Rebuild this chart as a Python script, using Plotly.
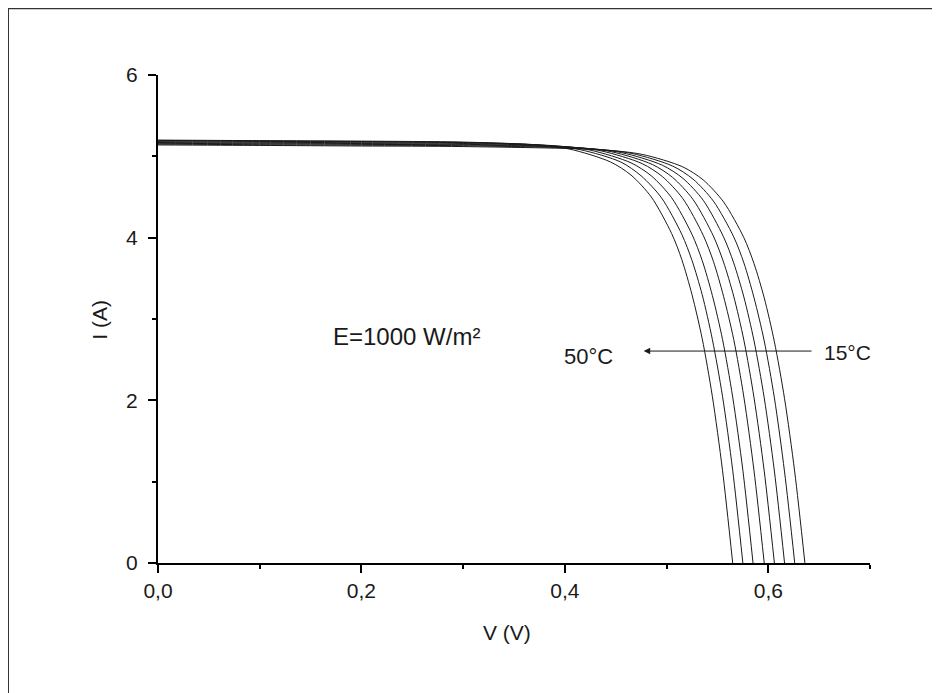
import plotly.graph_objects as go

# Temperatures (°C) of the curve family, 15 °C (right) to 50 °C (left)
temperatures = [15, 20, 25, 30, 35, 40, 45, 50]

# Voltage (V) points
v_15 = [0.0, 0.1, 0.2, 0.3, 0.436, 0.476, 0.516, 0.536, 0.556, 0.576, 0.586, 0.596, 0.606, 0.616, 0.626, 0.636]
v_20 = [0.0, 0.1, 0.2, 0.3, 0.426, 0.466, 0.506, 0.526, 0.546, 0.566, 0.576, 0.586, 0.596, 0.606, 0.616, 0.626]
v_25 = [0.0, 0.1, 0.2, 0.3, 0.416, 0.456, 0.496, 0.516, 0.536, 0.556, 0.566, 0.576, 0.586, 0.596, 0.606, 0.616]
v_30 = [0.0, 0.1, 0.2, 0.3, 0.406, 0.446, 0.486, 0.506, 0.526, 0.546, 0.556, 0.566, 0.576, 0.586, 0.596, 0.606]
v_35 = [0.0, 0.1, 0.2, 0.3, 0.396, 0.436, 0.476, 0.496, 0.516, 0.536, 0.546, 0.556, 0.566, 0.576, 0.586, 0.596]
v_40 = [0.0, 0.1, 0.2, 0.3, 0.385, 0.425, 0.465, 0.485, 0.505, 0.525, 0.535, 0.545, 0.555, 0.565, 0.575, 0.585]
v_45 = [0.0, 0.1, 0.2, 0.3, 0.375, 0.415, 0.455, 0.475, 0.495, 0.515, 0.525, 0.535, 0.545, 0.555, 0.565, 0.575]
v_50 = [0.0, 0.1, 0.2, 0.3, 0.365, 0.405, 0.445, 0.465, 0.485, 0.505, 0.515, 0.525, 0.535, 0.545, 0.555, 0.565]

# Current (A) read at those voltages
i_15 = [5.14, 5.134, 5.127, 5.12, 5.08, 5.024, 4.87, 4.71, 4.44, 4.00, 3.68, 3.26, 2.72, 2.02, 1.12, 0.0]
i_20 = [5.15, 5.143, 5.137, 5.13, 5.092, 5.035, 4.88, 4.72, 4.45, 4.01, 3.69, 3.26, 2.73, 2.03, 1.12, 0.0]
i_25 = [5.16, 5.154, 5.147, 5.14, 5.103, 5.045, 4.89, 4.73, 4.46, 4.01, 3.69, 3.27, 2.73, 2.03, 1.13, 0.0]
i_30 = [5.17, 5.163, 5.157, 5.148, 5.113, 5.056, 4.90, 4.74, 4.47, 4.02, 3.70, 3.28, 2.74, 2.03, 1.13, 0.0]
i_35 = [5.18, 5.173, 5.167, 5.158, 5.123, 5.066, 4.91, 4.75, 4.48, 4.03, 3.71, 3.28, 2.75, 2.04, 1.13, 0.0]
i_40 = [5.19, 5.183, 5.177, 5.167, 5.134, 5.076, 4.92, 4.76, 4.49, 4.04, 3.72, 3.29, 2.75, 2.04, 1.14, 0.0]
i_45 = [5.195, 5.189, 5.182, 5.171, 5.14, 5.082, 4.93, 4.76, 4.49, 4.04, 3.72, 3.30, 2.75, 2.05, 1.14, 0.0]
i_50 = [5.20, 5.193, 5.187, 5.175, 5.145, 5.088, 4.93, 4.77, 4.50, 4.05, 3.73, 3.30, 2.76, 2.05, 1.14, 0.0]

voltages = [v_15, v_20, v_25, v_30, v_35, v_40, v_45, v_50]
currents = [i_15, i_20, i_25, i_30, i_35, i_40, i_45, i_50]

FONT = "Liberation Sans, Arial, sans-serif"
INK = "#1a1a1a"

fig = go.Figure()
for t, vv, ii in zip(temperatures, voltages, currents):
    fig.add_trace(go.Scatter(
        x=vv, y=ii, mode="lines", name=f"{t}°C",
        line=dict(color=INK, width=1, shape="spline", smoothing=0.8),
        showlegend=False, hoverinfo="x+y",
    ))

fig.update_layout(
    width=940, height=693,
    margin=dict(l=150, r=78, t=67, b=138),
    paper_bgcolor="white", plot_bgcolor="white",
    separators=", ",
    font=dict(family=FONT, size=21, color=INK),
    xaxis=dict(
        range=[0, 0.7], dtick=0.2, tick0=0, tickformat=".1f",
        showgrid=False, zeroline=False,
        showline=True, linecolor="black", linewidth=2,
        ticks="outside", ticklen=8, tickwidth=2, tickcolor="black",
        minor=dict(tickvals=[0.1, 0.3, 0.5, 0.7], ticks="outside", ticklen=4, tickwidth=2, tickcolor="black"),
        tickfont=dict(size=21),
    ),
    yaxis=dict(
        range=[0, 6], dtick=2, tick0=0,
        showgrid=False, zeroline=False,
        showline=True, linecolor="black", linewidth=2,
        ticks="outside", ticklen=8, tickwidth=2, tickcolor="black",
        minor=dict(tickvals=[1, 3, 5], ticks="outside", ticklen=4, tickwidth=2, tickcolor="black"),
        tickfont=dict(size=21), ticklabelstandoff=6,
    ),
)

# Axis titles
fig.add_annotation(x=0.343, y=-0.143, xref="x", yref="paper", text="V (V)",
                   xanchor="center", yanchor="middle",
                   showarrow=False, font=dict(size=21, family=FONT, color=INK))
fig.add_annotation(x=-0.0815, y=2.99, xref="paper", yref="y", text="I (A)", textangle=-90,
                   xanchor="center", yanchor="middle",
                   showarrow=False, font=dict(size=21, family=FONT, color=INK))

# Outer frame (only top and left edges visible in the picture)
fig.add_shape(type="rect", xref="paper", yref="paper",
              x0=-0.2107, x1=1.15, y0=-0.32, y1=1.137,
              line=dict(color="#333333", width=2), layer="below")

fig.add_annotation(x=0.244, y=2.78, xref="x", yref="y", text="E=1000 W/m²",
                   showarrow=False, font=dict(size=24, family=FONT, color=INK))
fig.add_annotation(x=0.4235, y=2.545, xref="x", yref="y", text="50°C",
                   showarrow=False, font=dict(size=22, family=FONT, color=INK))
fig.add_annotation(x=0.678, y=2.59, xref="x", yref="y", text="15°C",
                   showarrow=False, font=dict(size=21, family=FONT, color=INK))
fig.add_annotation(x=0.4775, y=2.606, ax=0.644, ay=2.606,
                   xref="x", yref="y", axref="x", ayref="y",
                   text="", showarrow=True, arrowhead=2, arrowsize=1.3,
                   arrowwidth=1, arrowcolor=INK)

fig.write_html("out.html")
